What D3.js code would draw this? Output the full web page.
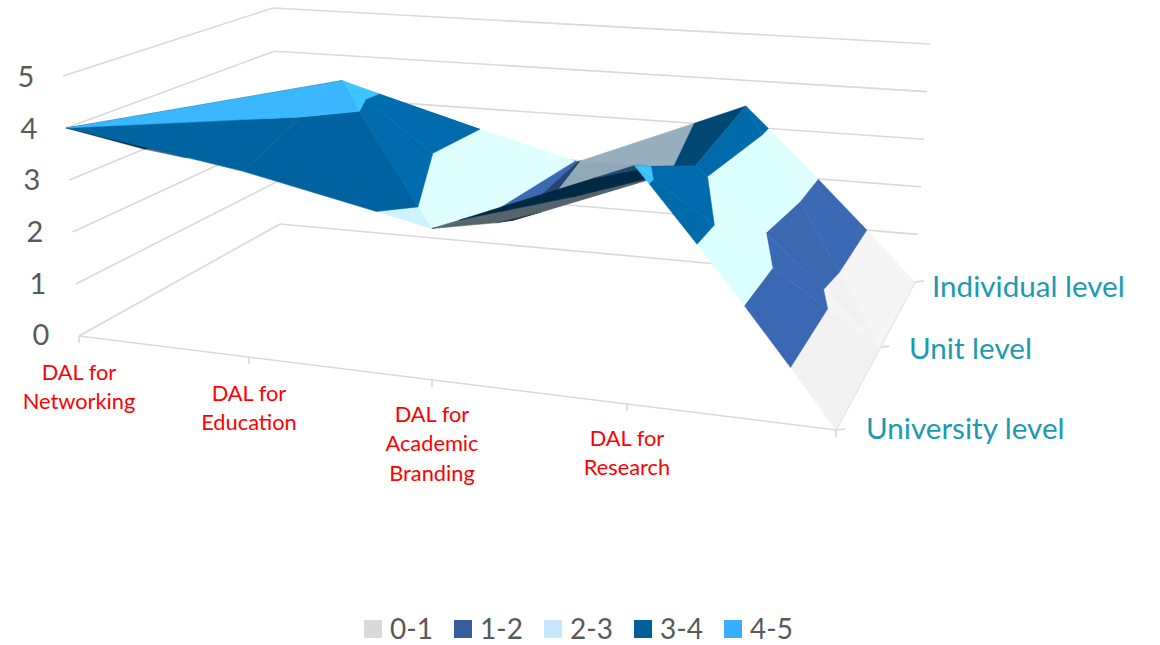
<!DOCTYPE html>
<html>
<head>
<meta charset="utf-8">
<style>
  html, body { margin: 0; padding: 0; background: #fff; }
  text { font-family: Lato, "Open Sans", sans-serif; }
</style>
<script src="https://cdn.jsdelivr.net/npm/d3@7"></script>
</head>
<body>
<div id="chart"></div>
<script>
// Surface values, one list per series (front row to back row).
// The fifth category has a tick but no label in the source.
var categories = ["DAL for|Networking", "DAL for|Education", "DAL for|Academic|Branding", "DAL for|Research", ""];
var seriesNames = ["University level", "Unit level", "Individual level"];
var universityValues = [4.0, 3.5, 2.79, 4.3, 0];
var unitValues = [2.45, 4.35, 1.78, 3.2, 0];
var individualValues = [3.0, 2.7, 1.97, 3.45, 0];
var valueTicks = [0, 1, 2, 3, 4, 5];
var bandLabels = ["0-1", "1-2", "2-3", "3-4", "4-5"];
var bandColors = ["#d9d9d9", "#355d9f", "#c5e7fb", "#005f99", "#37aeff"];

// Which column of the unit row the creases of each cell run from
var creaseColumns = [1, 1, 3, 4];

var rows = [universityValues, unitValues, individualValues];

var width = 1160;
var height = 645;

var svg = d3.select("#chart").append("svg")
    .attr("width", width)
    .attr("height", height);

// Box corners on screen: f/b = front/back, l/r = left/right, 0/1 = floor/ceiling
var box = {
    fl0: [79, 336], fr0: [836, 430], bl0: [280, 224], br0: [915, 282],
    fl1: [63, 76], fr1: [854, 146], bl1: [273, 8], br1: [930, 44]
};

// Scales go to 0..1 inside the box; the uneven steps are the perspective
var xScale = d3.scaleLinear().domain([0, 1, 2, 3, 4]).range([0, 0.2246, 0.4663, 0.7239, 1]);
var zScale = d3.scaleLinear().domain([0, 1, 2]).range([0, 0.56, 1]);
var vScale = d3.scaleLinear().domain([0, 5]).range([0, 1]);

function mix(a, b, t) {
    return [a[0] + (b[0] - a[0]) * t, a[1] + (b[1] - a[1]) * t];
}

// Trilinear position from box fractions
function project(fx, fv, fz) {
    var floor = mix(mix(box.fl0, box.fr0, fx), mix(box.bl0, box.br0, fx), fz);
    var ceil = mix(mix(box.fl1, box.fr1, fx), mix(box.bl1, box.br1, fx), fz);
    return mix(floor, ceil, fv);
}

function pointAt(i, k, v) {
    return project(xScale(i), vScale(v), zScale(k));
}

function screenOf(p) {
    return pointAt(p.i, p.k, p.v);
}

var line = d3.line();
var gridColor = "#d9d9d9";

function segment(a, b) {
    svg.append("path")
        .attr("d", line([a, b]))
        .attr("fill", "none")
        .attr("stroke", gridColor)
        .attr("stroke-width", 1.6);
}

// Walls
valueTicks.forEach(function (v) {
    segment(pointAt(0, 0, v), pointAt(0, 2, v));
    segment(pointAt(0, 2, v), pointAt(4, 2, v));
});

// Floor axes and their ticks
segment(pointAt(0, 0, 0), pointAt(4, 0, 0));
segment(pointAt(4, 0, 0), pointAt(4, 2, 0));
categories.forEach(function (c, i) {
    var p = pointAt(i, 0, 0);
    segment(p, [p[0], p[1] + 7]);
});
seriesNames.forEach(function (s, k) {
    var p = pointAt(4, k, 0);
    segment(p, [p[0] + 9, p[1] - 1]);
});

// Four triangles per cell, all meeting at the crease column on the unit row.
// Cells run far to near, and inside a cell the back row goes first.
function buildTriangles() {
    var out = [];
    function vert(i, k) {
        return { i: i, k: k, v: rows[k][i] };
    }
    creaseColumns.forEach(function (c, i) {
        var o = c === i ? i + 1 : i;
        [2, 0].forEach(function (k) {
            var pair = [
                [vert(c, 1), vert(o, 1), vert(o, k)],
                [vert(c, 1), vert(c, k), vert(o, k)]
            ];
            pair.sort(function (a, b) { return depthOf(a) - depthOf(b); });
            out.push(pair[0], pair[1]);
        });
    });
    return out;
}

function depthOf(tri) {
    return d3.mean(tri, function (p) { return pointAt(p.i, p.k, 0)[1]; });
}

// Cut a polygon down to lo <= v <= hi
function clipBand(poly, lo, hi) {
    function clip(pts, inside, limit) {
        var res = [];
        pts.forEach(function (a, n) {
            var b = pts[(n + 1) % pts.length];
            if (inside(a.v)) res.push(a);
            if (inside(a.v) !== inside(b.v)) {
                var t = (limit - a.v) / (b.v - a.v);
                res.push({ i: a.i + (b.i - a.i) * t, k: a.k + (b.k - a.k) * t, v: limit });
            }
        });
        return res;
    }
    var low = clip(poly, function (v) { return v >= lo; }, lo);
    if (low.length < 3) return [];
    return clip(low, function (v) { return v <= hi; }, hi);
}

// Shade from the plane's normal; planes rising to the right get it flipped and go dark
function shadeOf(tri) {
    var a = tri[0], b = tri[1], c = tri[2];
    var ux = b.i - a.i, uy = b.v - a.v, uz = b.k - a.k;
    var wx = c.i - a.i, wy = c.v - a.v, wz = c.k - a.k;
    var n = [uy * wz - uz * wy, uz * wx - ux * wz, ux * wy - uy * wx];
    var len = Math.sqrt(n[0] * n[0] + n[1] * n[1] + n[2] * n[2]);
    var sign = n[1] < 0 ? -1 : 1;
    if (sign * n[0] < 0) sign = -sign;
    var f = 0.99 + 0.56 * sign * (n[1] + n[2]) / len;
    return Math.max(0.3, Math.min(1.13, f));
}

var surface = svg.append("g");
buildTriangles().forEach(function (tri) {
    var shade = shadeOf(tri);
    bandColors.forEach(function (col, b) {
        var piece = clipBand(tri, b, b + 1);
        if (piece.length < 3) return;
        var rgb = d3.rgb(col);
        var fill = d3.rgb(rgb.r * shade, rgb.g * shade, rgb.b * shade).formatHex();
        surface.append("path")
            .attr("d", line(piece.map(screenOf)) + "Z")
            .attr("fill", fill)
            .attr("stroke", fill)
            .attr("stroke-width", 0.5)
            .attr("stroke-linejoin", "round");
    });
});

// Value labels
var valueLabelY = d3.scaleLinear().domain([0, 5]).range([335, 77]);
var valueLabelX = d3.scaleLinear().domain([0, 5]).range([41, 26]);
svg.selectAll(".value-label").data(valueTicks).enter().append("text")
    .attr("class", "value-label")
    .attr("x", function (d) { return valueLabelX(d); })
    .attr("y", function (d) { return valueLabelY(d); })
    .attr("dy", "0.35em")
    .attr("text-anchor", "middle")
    .attr("font-size", 29)
    .attr("fill", "#595959")
    .text(function (d) { return d; });

// Category labels under the front axis
var catLabelTop = [372, 393, 414, 438, 0];
categories.forEach(function (c, i) {
    if (!c) return;
    var p = pointAt(i, 0, 0);
    c.split("|").forEach(function (part, n) {
        svg.append("text")
            .attr("x", p[0])
            .attr("y", catLabelTop[i] + n * 29.5)
            .attr("dy", "0.35em")
            .attr("text-anchor", "middle")
            .attr("font-size", 21.8)
            .attr("fill", "#ff0000")
            .text(part);
    });
});

// Series labels on the right
var seriesLabelX = [866, 909, 932];
var seriesLabelY = [429, 349, 287];
seriesNames.forEach(function (s, k) {
    svg.append("text")
        .attr("x", seriesLabelX[k])
        .attr("y", seriesLabelY[k])
        .attr("dy", "0.35em")
        .attr("font-size", 29.6)
        .attr("fill", "#1b9ab2")
        .text(s);
});

// Legend
var legendX = d3.scaleLinear().domain([0, 4]).range([364, 724]);
bandLabels.forEach(function (label, b) {
    svg.append("rect")
        .attr("x", legendX(b))
        .attr("y", 620)
        .attr("width", 18)
        .attr("height", 18)
        .attr("fill", bandColors[b]);
    svg.append("text")
        .attr("x", legendX(b) + 26)
        .attr("y", 629)
        .attr("dy", "0.35em")
        .attr("font-size", 28)
        .attr("fill", "#595959")
        .text(label);
});
</script>
</body>
</html>
